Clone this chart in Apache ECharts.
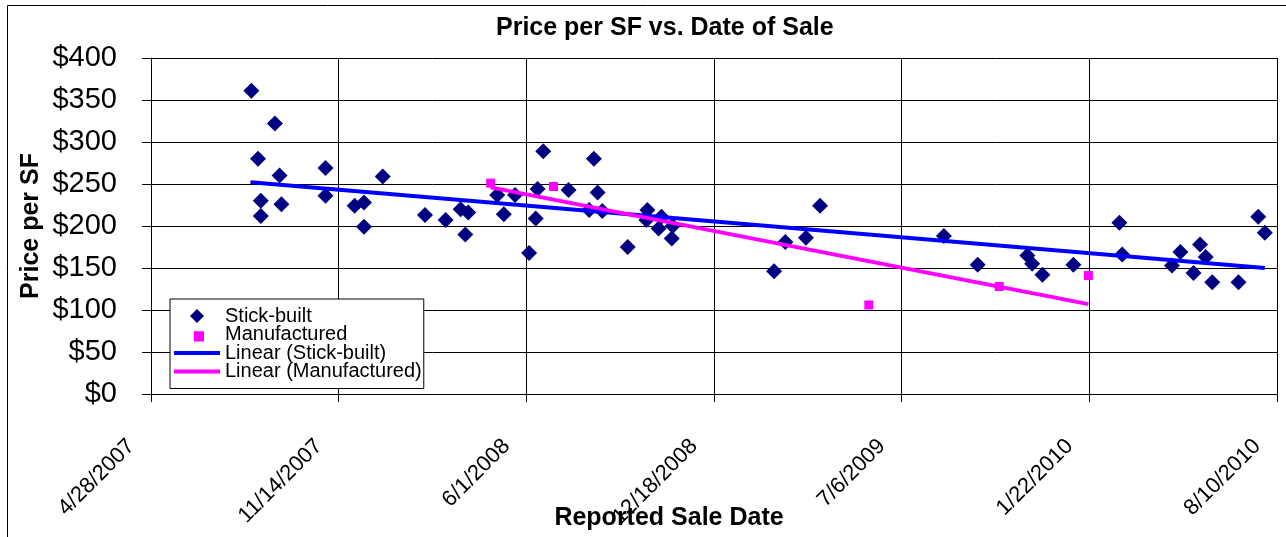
<!DOCTYPE html>
<html>
<head>
<meta charset="utf-8">
<title>Price per SF vs. Date of Sale</title>
<script src="https://cdn.jsdelivr.net/npm/echarts@6/dist/echarts.min.js"></script>
<style>
  html, body { margin: 0; padding: 0; background: #fff; }
  #chart { width: 1286px; height: 537px; }
</style>
</head>
<body>
<div id="chart"></div>
<script>
// sale dates are Excel day serials (39200 = 4/28/2007)
const xTickLabels = ['4/28/2007', '11/14/2007', '6/1/2008', '12/18/2008', '7/6/2009', '1/22/2010', '8/10/2010'];
const xStart = 39200;
const xStep = 200;

const stickDates = [39307, 39314, 39332, 39337, 39317, 39317, 39339, 39386, 39386, 39417,
  39427, 39427, 39447, 39492, 39514, 39530, 39538, 39535, 39569, 39588,
  39576, 39612, 39610, 39603, 39618, 39645, 39672, 39676, 39667, 39681,
  39708, 39729, 39744, 39728, 39741, 39755, 39756, 39864, 39876, 39898,
  39913, 40045, 40081, 40134, 40139, 40150, 40183, 40232, 40235, 40288,
  40297, 40311, 40318, 40324, 40331, 40359, 40380, 40387];
const stickPrices = [361, 280, 322, 260, 230, 212, 226, 269, 236, 224,
  228, 199, 259, 213, 207, 220, 216, 190, 237, 237,
  214, 244, 209, 168, 289, 243, 280, 240, 219, 218,
  175, 219, 211, 207, 197, 185, 200, 146, 181, 186,
  224, 188, 154, 165, 155, 142, 154, 204, 166, 153,
  169, 144, 178, 163, 133, 133, 211, 192];

const mfgDates = [39562, 39629, 39965, 40104, 40199];
const mfgPrices = [251, 247, 106, 128, 141];

// trendline end points as drawn
const stickTrendDates = [39306, 40387];
const stickTrendPrices = [252, 150];
const mfgTrendDates = [39562, 40199];
const mfgTrendPrices = [246, 107];

const zip = (xs, ys) => xs.map((x, i) => [x, ys[i]]);
const font = 'Liberation Sans, Arial, sans-serif';

const chart = echarts.init(document.getElementById('chart'));

const option = {
  animation: false,
  backgroundColor: '#fff',
  textStyle: { fontFamily: font, color: '#000' },
  title: {
    text: 'Price per SF vs. Date of Sale',
    left: 496,
    top: 16,
    padding: 0,
    textStyle: { fontFamily: font, fontSize: 25, fontWeight: 'bold', color: '#000' }
  },
  graphic: [{
    type: 'rect',
    shape: { x: 7.5, y: 5.5, width: 1300, height: 560 },
    style: { fill: 'none', stroke: '#000', lineWidth: 1 },
    silent: true
  }],
  grid: { left: 151, top: 58, right: 9, bottom: 143, outerBoundsMode: 'none', containLabel: false },
  legend: {
    orient: 'vertical',
    left: 170,
    top: 299,
    padding: [7, 2, 7, 4],
    itemWidth: 46,
    itemHeight: 14,
    itemGap: -1.5,
    backgroundColor: '#fff',
    borderColor: '#000',
    borderWidth: 1,
    itemStyle: { borderWidth: 0 },
    textStyle: { fontFamily: font, fontSize: 20, color: '#000' },
    data: [
      { name: 'Stick-built', icon: 'path://M7,0L14,7L7,14L0,7Z' },
      { name: 'Manufactured', icon: 'path://M0,0L0.01,0M3,3L11,3L11,11L3,11Z' },
      { name: 'Linear (Stick-built)', icon: 'path://M0,0L46,0L46,4L0,4Z' },
      { name: 'Linear (Manufactured)', icon: 'path://M0,0L46,0L46,4L0,4Z' }
    ]
  },
  xAxis: {
    type: 'value',
    min: xStart,
    max: xStart + xStep * (xTickLabels.length - 1),
    interval: xStep,
    name: 'Reported Sale Date',
    nameLocation: 'middle',
    nameGap: 112,
    nameMoveOverlap: false,
    nameTextStyle: { fontFamily: font, fontSize: 25, fontWeight: 'bold', color: '#000', padding: [0, 90, 0, 0] },
    axisLine: { lineStyle: { color: '#000', width: 1 } },
    axisTick: { show: true, inside: false, length: 8, lineStyle: { color: '#000' } },
    axisLabel: {
      rotate: 45,
      margin: 29,
      padding: [0, 28, 0, 0],
      fontSize: 22,
      fontFamily: font,
      color: '#000',
      formatter: v => xTickLabels[Math.round((v - xStart) / xStep)] || ''
    },
    splitLine: { show: true, lineStyle: { color: '#000', width: 1 } }
  },
  yAxis: {
    type: 'value',
    min: 0,
    max: 400,
    interval: 50,
    name: 'Price per SF',
    nameLocation: 'middle',
    nameGap: 107,
    nameMoveOverlap: false,
    nameTextStyle: { fontFamily: font, fontSize: 25, fontWeight: 'bold', color: '#000' },
    axisLine: { show: true, lineStyle: { color: '#000', width: 1 } },
    axisTick: { show: true, inside: false, length: 9, lineStyle: { color: '#000' } },
    axisLabel: {
      margin: 34,
      fontSize: 29,
      fontFamily: font,
      color: '#000',
      formatter: v => '$' + v
    },
    splitLine: { show: true, lineStyle: { color: '#000', width: 1 } }
  },
  series: [
    {
      name: 'Stick-built',
      type: 'scatter',
      symbol: 'diamond',
      symbolSize: 16,
      itemStyle: { color: '#000080', opacity: 1 },
      data: zip(stickDates, stickPrices),
      z: 2
    },
    {
      name: 'Manufactured',
      type: 'scatter',
      symbol: 'rect',
      symbolSize: 9,
      itemStyle: { color: '#FF00FF', opacity: 1 },
      data: zip(mfgDates, mfgPrices),
      z: 4
    },
    {
      name: 'Linear (Stick-built)',
      type: 'line',
      symbol: 'none',
      color: '#0000FF',
      lineStyle: { color: '#0000FF', width: 4 },
      data: zip(stickTrendDates, stickTrendPrices),
      z: 3
    },
    {
      name: 'Linear (Manufactured)',
      type: 'line',
      symbol: 'none',
      color: '#FF00FF',
      lineStyle: { color: '#FF00FF', width: 4 },
      data: zip(mfgTrendDates, mfgTrendPrices),
      z: 3
    }
  ]
};

chart.setOption(option);
</script>
</body>
</html>
